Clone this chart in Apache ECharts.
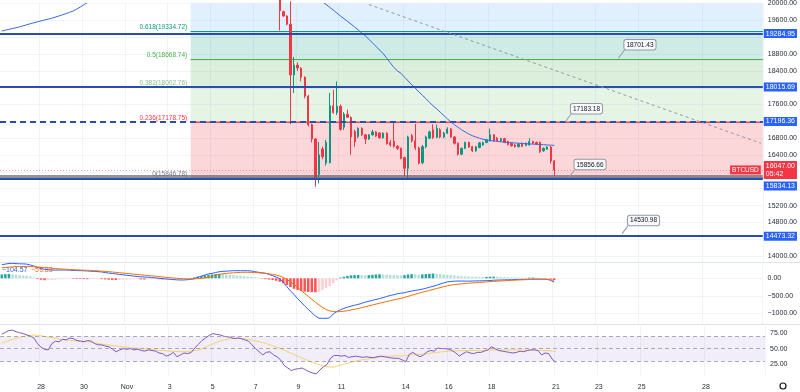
<!DOCTYPE html>
<html><head><meta charset="utf-8">
<script src="https://cdn.jsdelivr.net/npm/echarts@6/dist/echarts.min.js"></script>
<style>html,body{margin:0;padding:0;background:#fff}#c{width:800px;height:392px}</style>
</head><body><div id="c"></div>
<script>
// ---------- time slots (4h candles) ----------
const startTime = Date.UTC(2022, 9, 26, 4);
const slotHours = 4;
const slotCount = 214;

// ---------- x tick labels ----------
const dayTickKeys = ['10-28 00','10-30 00','11-01 00','11-03 00','11-05 00','11-07 00','11-09 00','11-11 00','11-14 00','11-16 00','11-18 00','11-21 00','11-23 00','11-25 00','11-28 00'];
const dayTickText = ['28','30','Nov','3','5','7','9','11','14','16','18','21','23','25','28'];

// ---------- y tick labels ----------
const priceLabelValues = [14000,14800,15200,16400,16800,17600,18400,18800,19600,20000];
const priceGridValues = [14000,14400,14800,15200,15600,16000,16400,16800,17200,17600,18000,18400,18800,19200,19600,20000];
const macdLabelValues = [0,-500,-1000];
const rsiLabelValues = [25,50,75];

// ---------- candles: [open, close, low, high], first one at slot 78 ----------
const candleFirstSlot = 78;
const ohlc = [
[20250,19830,19360,20300],[19806,19704,19680,19830],[19703,19510,19480,19720],[19510,18302,17135,20050],
[18302,18536,17875,18732],[18536,18468,18400,18600],[18460,18250,18150,18490],[18250,17800,17750,18270],
[17800,17120,17080,17830],[17120,16780,16700,17150],[16780,15860,15650,16800],[15940,16405,15730,16710],
[16545,16360,16300,16600],[16210,16700,16150,16760],[16220,17570,16200,17875],[17570,17410,17380,17950],
[17410,17560,17350,18150],[17560,17010,16980,17600],[17060,17370,17000,17420],[17370,17300,17280,17480],
[17290,16830,16410,17320],[16960,16720,16600,17000],[16840,17035,16800,17060],[17030,16880,16850,17060],
[16880,16780,16660,16900],[16780,16880,16760,16900],[16880,16950,16860,17000],[16950,16850,16830,16970],
[16920,16810,16790,16950],[16810,16920,16790,16940],[16920,16670,16650,16940],[16700,16640,16600,16760],
[16730,16610,16580,17210],[16610,16560,16520,16640],[16560,16320,16300,16580],[16340,16085,15890,16360],
[16085,16830,15820,16860],[16860,16740,16700,16900],[16740,16575,16520,17140],[16570,16200,16180,16600],
[16220,16600,16180,16640],[16600,16830,16560,16860],[16800,16950,16780,16980],[17000,16820,16780,17130],
[16820,17030,16800,17120],[17000,16830,16800,17040],[16830,16920,16800,16950],[16920,17020,16900,17060],
[17020,16830,16810,17040],[16830,16680,16650,16850],[16680,16420,16390,16700],[16420,16560,16400,16580],
[16560,16700,16540,16720],[16700,16590,16570,16720],[16600,16500,16470,16620],[16500,16600,16480,16620],
[16580,16690,16560,16710],[16640,16700,16620,16720],[16700,16760,16680,16780],[16740,16880,16720,17030],
[16880,16740,16720,16900],[16800,16740,16720,16830],[16740,16790,16720,16810],[16790,16700,16680,16810],
[16720,16650,16630,16740],[16680,16620,16600,16700],[16640,16600,16580,16660],[16600,16660,16580,16680],
[16680,16610,16590,16700],[16630,16680,16610,16700],[16640,16720,16620,16800],[16720,16680,16660,16740],
[16700,16660,16640,16720],[16700,16480,16450,16720],[16500,16560,16480,16580],[16540,16590,16520,16610],
[16590,16260,16200,16610],[16260,16047,15910,16280]
];

// ---------- moving average on price (per slot from slot 0) ----------
const maValues = [19346,19366,19386,19405,19425,19445,19470,19495,19520,19542,19565,19587,19608,19629,19650,19676,19703,19731,19760,19790,19820,19865,19915,19970,
20020,20065,20105,20140,20172,20200,20225,20248,20270,20290,20308,20325,20340,20355,20368,20380,20392,20403,20414,20425,20436,20447,20458,20468,20478,20488,20497,20506,20515,20524,20532,20540,20547,20554,20560,20566,20572,20577,20582,20586,20590,20594,20597,20600,20602,20604,20605,20606,20606,20605,20604,20602,20600,20597,20594,20590,20586,
20560,20520,20470,20410,20350,20290,20225,20160,20095,20035,19977,
19910,19845,19775,19705,19640,19575,19510,19440,19370,19300,19230,19150,19065,18980,18895,18810,18700,18590,18480,18400,18340,18250,18160,18070,17990,17900,17820,17740,17650,17570,17500,17420,17340,17260,17190,17120,17060,17000,16950,16900,16860,16830,16800,16775,16760,16745,16735,16725,16715,16708,16700,16693,16687,16681,16675,16670,16665,16660,16655,16650,16645,16640,16635,16630];

// ---------- MACD pane ----------
const macdLine = [390,405,425,427,420,415,412,405,380,350,310,280,258,245,237,235,237,237,237,232,226,222,219,216,210,203,197,191,182,165,150,138,126,112,100,88,75,64,53,43,38,32,22,12,3,-8,-18,-28,-36,-42,-47,-48,-40,-32,-10,30,62,95,125,142,165,188,198,205,212,217,218,218,217,217,210,190,172,158,145,110,75,35,-10,-120,-240,-360,-460,-580,-680,-790,-890,-980,-1080,-1140,-1143,-1143,-1130,-1020,-950,-900,-860,-825,-795,-770,-745,-715,-680,-655,-630,-605,-580,-550,-520,-490,-470,-440,-425,-410,-385,-365,-345,-330,-310,-285,-255,-230,-200,-165,-130,-105,-90,-82,-78,-78,-80,-80,-78,-75,-72,-70,-68,-62,-55,-50,-48,-45,-42,-40,-35,-32,-30,-28,-26,-24,-22,-25,-25,-25,-60,-105];
const signalLine = [300,310,320,328,333,336,338,338,336,332,326,318,308,298,288,280,272,265,258,252,247,242,237,233,228,223,218,212,205,198,190,180,170,160,150,140,130,120,110,100,90,80,70,60,50,40,30,20,10,2,-6,-12,-16,-18,-16,-10,0,12,26,42,
100,115,128,140,150,158,165,170,172,172,170,165,158,150,140,128,112,92,65,25,-30,-100,-175,-260,-345,-430,-515,-600,-680,-760,-830,-890,-930,-950,-954,-950,-940,-925,-905,-885,-862,-838,-812,-787,-762,-737,-712,-688,-664,-640,-617,-594,-571,-545,-516,-486,-455,-428,-400,-372,-345,-318,-292,-266,-240,-215,-195,-180,-168,-158,-148,-140,-132,-125,-117,-110,-103,-96,-89,-82,-76,-70,-64,-58,-52,-47,-43,-39,-35,-32,-29,-27,-26,-28,-38,-59];
const macdHist = [110,120,125,115,100,90,80,70,55,25,
-20,-40,-55,-55,-50,-40,-30,-25,-20,
-10,-15,-18,-20,-22,-25,-22,-20,-18,-22,-30,-38,-45,-50,-45,-40,
-35,-30,-25,-22,-30,-35,-30,-25,-20,-25,-30,-28,-25,-22,-18,-15,-10,-8,
10,25,45,65,85,100,110,120,125,120,110,100,90,80,70,60,50,40,
30,15,-10,-25,
-35,-50,-70,-100,-140,-190,-250,-300,-330,-360,-380,-390,-395,-400,-380,
-330,-280,-220,-140,-60,
20,45,70,85,90,95,90,85,90,100,110,115,110,100,95,90,85,80,90,110,120,115,105,110,120,130,135,130,120,110,100,90,80,70,60,55,50,45,42,40,38,40,45,50,45,40,35,30,28,25,22,20,18,20,22,18,12,8,5,-15,-46];
const macdLegend = ['\u2212104.57','\u221258.83'];

// ---------- RSI pane ----------
const rsiLine = [73,76,79,79.5,77,75.5,74,72,70,67,58,52,49,48,58,62,61,65,64,67,66,63,62,61,63,62,58,56,56,54,53,49,45,48,50,49,50,48,49,47,46,48,47,46,43,42,38,40,44,37,40,43,42,44,51,57,63,67,71,74,73,72,70,69,68,66,67,66,64,62,56,50,45,40,44,45,40,37,32,23,19,15,17,18,19,16,13,11,9.5,16,21,25,35,39,39,38,39,36,37,38,37,36,37,36,35.5,37,38,37,36,35,34.5,34.5,32,29,41,44,40,37,40,45,47,46,51,50,50,49,47,43,38,42,45,43,42,44,44,46,48,53,50,47,46,45,44,43,44,46,45,47,48,48,47,40,43,42,33,28];
const rsiMa = [59,61,63,65,66.5,68,69.5,70.5,71.3,71.8,71.5,70.5,69.5,68.5,67.5,66.5,65.5,64.5,64,63.3,62.8,62.3,61.8,61.3,60.8,60,59,58,57,56.3,55.8,55,54.2,53.5,52.8,52.2,51.5,51,50.5,50,49.5,49,48.5,48,47.5,47,46.5,46,45.7,45.4,45.2,45,45.3,46,47,48,50,52.5,55,57.5,60,62,63.5,64.8,65.8,66.3,66.5,66.3,65.5,64.5,63.5,62.3,61,59.5,58,56,54,52,50,47.5,45,42.5,40,37.5,35,32.5,30,28,26,24,22,21,20.3,20.5,22.5,24,25.5,27,28.8,30.2,31.3,32.2,33,34,35,36,36.8,37.3,37.7,38,38.2,38.4,38.6,38.8,39.3,40,40.5,41,41.5,42,42.8,43.5,44.2,44.8,45.3,45.8,46.2,46.5,46.7,46.8,47,47.1,47.2,47.3,47.3,47.4,47.5,47.6,47.7,47.7,47.8,47.8,47.8,47.8,47.8,47.8,47.8,47.7,47.7,47.6,47.5,47.2,46.9,46.6,46,45.2];
const rsiBand = [30,70];
const rsiLevels = [70,50,30];

// ---------- drawings ----------
const hLinePrices = [19284.95,18015.69,17196.36,15834.13,14473.32];
const hLineDashed = [false,false,true,false,false];
const fibStartKey = '11-04 00';
const fibRatios = ['0','0.236','0.382','0.5','0.618','0.786'];
const fibPrices = [15846.78,17178.75,18002.76,18668.74,19334.72,20282.8];
const fibColors = ['#787b86','#f23645','#81c784','#4caf50','#089981','#64b5f6'];
const trendStart = ['11-12 08',19975];
const trendEnd = ['11-30 16',16680];
const greyBandPrice = 15885;
const lastPrice = 16047.00;
const lastCountdown = '05:42';
const symbolName = 'BTCUSD';
const calloutKeys = ['11-24 00','11-21 12','11-21 16','11-24 04'];
const calloutPrices = [18701.43,17183.18,15856.66,14530.98];

// ---------- build ----------
const pad = n => String(n).padStart(2,'0');
const categories = [];
for (let k = 0; k < slotCount; k++) {
  const d = new Date(startTime + k * slotHours * 3600000);
  categories.push(pad(d.getUTCMonth()+1) + '-' + pad(d.getUTCDate()) + ' ' + pad(d.getUTCHours()));
}
const tickMap = {};
dayTickKeys.forEach((k,i)=>{ tickMap[k] = dayTickText[i]; });
const isTick = (idx, val) => tickMap[val] !== undefined;
const candleData = categories.map((c,k)=>{ const r = ohlc[k - candleFirstSlot]; return r ? r : '-'; });
const histData = macdHist.map((v,k)=>{
  const prev = k > 0 ? macdHist[k-1] : v;
  let c;
  if (v >= 0) c = v >= prev ? '#26a69a' : '#b2dfdb';
  else c = v < prev ? '#ff5252' : '#ffcdd2';
  return {value: v, itemStyle: {color: c}};
});
const hexA = (hex, a) => { const n = parseInt(hex.slice(1),16); return `rgba(${n>>16},${(n>>8)&255},${n&255},${a})`; };

const FONT = 'Liberation Sans';
const GRID_C = '#f0f3fa';
const AX_TXT = '#2a2e39';

const grids = [
  {left:0, right:35, top:-1, height:263},
  {left:0, right:35, top:262, height:62},
  {left:0, right:35, top:324, height:51}
];
const xAxes = [0,1,2].map(g => ({
  type:'category', gridIndex:g, data:categories, boundaryGap:true,
  axisLine:{show:false}, axisTick:{show:false},
  axisLabel: g === 2 ? {show:true, interval:isTick, formatter:v => tickMap[v] || '', fontSize:7, color:AX_TXT, margin:9, fontFamily:FONT} : {show:false},
  splitLine:{show:true, interval:isTick, lineStyle:{color:GRID_C, width:1}}
}));
const yAxes = [
  {type:'value', gridIndex:0, position:'right', min:13860, max:20000, scale:true,
   axisLine:{show:false}, axisTick:{show:false, customValues:priceGridValues},
   axisLabel:{customValues:priceLabelValues, formatter:v=>v.toFixed(2), fontSize:7, color:AX_TXT, margin:5, fontFamily:FONT},
   splitLine:{show:true, lineStyle:{color:GRID_C}}},
  {type:'value', gridIndex:1, position:'right', min:-1305, max:466,
   axisLine:{show:false}, axisTick:{show:false, customValues:macdLabelValues},
   axisLabel:{customValues:macdLabelValues, formatter:v=>(v<0?'\u2212':'')+Math.abs(v).toFixed(2), fontSize:7, color:AX_TXT, margin:5, fontFamily:FONT},
   splitLine:{show:true, lineStyle:{color:GRID_C}}},
  {type:'value', gridIndex:2, position:'right', min:7.8, max:89.4,
   axisLine:{show:false}, axisTick:{show:false, customValues:rsiLabelValues},
   axisLabel:{customValues:rsiLabelValues, formatter:v=>v.toFixed(2), fontSize:7, color:AX_TXT, margin:5, fontFamily:FONT},
   splitLine:{show:false}}
];

// fib zones and level lines
const fibAreas = [];
for (let k = 0; k < fibPrices.length-1; k++) {
  fibAreas.push([
    {xAxis:fibStartKey, yAxis:fibPrices[k], itemStyle:{color:hexA(fibColors[k+1],0.2), borderWidth:0}, label:{show:false}},
    {yAxis:fibPrices[k+1]}
  ]);
}
for (let k = 0; k < fibPrices.length-1; k++) {
  fibAreas.push([
    {xAxis:fibStartKey, yAxis:fibPrices[k], itemStyle:{color:'rgba(0,0,0,0)', borderColor:fibColors[k], borderWidth:1},
     label:{show:true, position:'left', distance:3, formatter:'{t|'+fibRatios[k]+'('+fibPrices[k].toFixed(2)+')}\n{g|}',
            rich:{t:{color:fibColors[k], fontSize:6.5, fontFamily:FONT}, g:{height:8}}}},
    {yAxis:fibPrices[k]}
  ]);
}

const badgeBase = {show:true, position:'end', distance:1, color:'#fff', backgroundColor:'#2962ff', padding:[1,2,1,2], fontSize:7, fontFamily:FONT};
const hLineData = hLinePrices.map((p,k)=>{
  const label = (k === 3)
    ? {show:true, position:'end', distance:1, formatter:'{g|}\n{b|'+p.toFixed(2)+'}', rich:{g:{height:14}, b:{color:'#fff', backgroundColor:'#2962ff', padding:[1,2,1,2], fontSize:7, fontFamily:FONT}}}
    : Object.assign({}, badgeBase, {formatter:p.toFixed(2)});
  return {yAxis:p, lineStyle:{color:'#2a4db3', width:2, type: hLineDashed[k] ? [6,4] : 'solid'}, label};
});

const drawLines = [
  {yAxis:greyBandPrice, lineStyle:{color:'rgba(100,100,112,0.7)', width:3, type:'solid'}, label:{show:false}},
  ...hLineData,
  {yAxis:lastPrice, lineStyle:{color:'rgba(242,54,69,0.45)', width:1, type:[1,2]},
   label:{show:true, position:'end', distance:1, formatter:lastPrice.toFixed(2)+'\n'+lastCountdown, color:'#fff', backgroundColor:'#f23645', padding:[1,2,1,2], fontSize:7, lineHeight:8, fontFamily:FONT}},
  {yAxis:lastPrice, lineStyle:{width:0, color:'rgba(0,0,0,0)'},
   label:{show:true, opacity:1, position:'insideEnd', distance:2, formatter:symbolName, color:'#fff', backgroundColor:'#f23645', padding:[1,2,1,2], fontSize:6.5, fontFamily:FONT}},
  [{xAxis:trendStart[0], yAxis:trendStart[1], lineStyle:{color:'#9598a1', width:1, type:[3,3]}, label:{show:false}},
   {xAxis:trendEnd[0], yAxis:trendEnd[1]}]
];

const callouts = calloutKeys.map((k,i)=>({coord:[k, calloutPrices[i]], value:calloutPrices[i]}));

const option = {
  animation:false,
  backgroundColor:'#ffffff',
  textStyle:{fontFamily:FONT},
  grid:grids, xAxis:xAxes, yAxis:yAxes,
  series:[
    {type:'line', name:'fibZones', xAxisIndex:0, yAxisIndex:0, data:[], silent:true, z:1,
     markArea:{silent:true, data:fibAreas}},
    {type:'candlestick', name:'BTCUSD', xAxisIndex:0, yAxisIndex:0, data:candleData, barWidth:1.8, z:2,
     itemStyle:{color:'#089981', color0:'#f23645', borderColor:'#089981', borderColor0:'#f23645', borderWidth:1}},
    {type:'line', name:'MA', xAxisIndex:0, yAxisIndex:0, data:maValues, symbol:'none', z:3,
     lineStyle:{color:'#3a68e0', width:1}},
    {type:'line', name:'drawings', xAxisIndex:0, yAxisIndex:0, data:[], silent:true, z:4,
     markLine:{silent:true, symbol:['none','none'], data:drawLines},
     markPoint:{silent:true, symbol:'path://M0,8L6,0', symbolSize:[6,8], symbolOffset:[3,-4],
       itemStyle:{color:'rgba(0,0,0,0)', borderColor:'#9598a1', borderWidth:1},
       label:{show:true, position:'top', distance:0, offset:[18.5,0], formatter:p=>p.value.toFixed(2),
         color:'#131722', fontSize:6.5, fontFamily:FONT, backgroundColor:'#f8f9fd', borderColor:'#9598a1', borderWidth:1, borderRadius:2, padding:[1.5,2,1,2]},
       data:callouts}},
    {type:'bar', name:'Histogram', xAxisIndex:1, yAxisIndex:1, data:histData, barWidth:'70%'},
    {type:'line', name:'MACD', xAxisIndex:1, yAxisIndex:1, data:macdLine, symbol:'none', lineStyle:{color:'#2962ff', width:1}},
    {type:'line', name:'Signal', xAxisIndex:1, yAxisIndex:1, data:signalLine, symbol:'none', lineStyle:{color:'#ff6d00', width:1}},
    {type:'line', name:'rsiBand', xAxisIndex:2, yAxisIndex:2, data:[], silent:true, z:1,
     markArea:{silent:true, data:[[{yAxis:rsiBand[0], itemStyle:{color:'rgba(126,87,194,0.1)'}}, {yAxis:rsiBand[1]}]]},
     markLine:{silent:true, symbol:['none','none'], label:{show:false},
       data:rsiLevels.map(v=>({yAxis:v, lineStyle:{color:'#9598a1', width:1, type:[4,3], opacity:0.8}}))}},
    {type:'line', name:'RSI', xAxisIndex:2, yAxisIndex:2, data:rsiLine, symbol:'none', lineStyle:{color:'#7e57c2', width:1}, z:3},
    {type:'line', name:'RSI MA', xAxisIndex:2, yAxisIndex:2, data:rsiMa, symbol:'none', lineStyle:{color:'#f7d36a', width:1}, z:2}
  ],
  graphic:[
    {type:'line', shape:{x1:0,y1:262.5,x2:800,y2:262.5}, style:{stroke:'#e0e3eb', lineWidth:1}, silent:true},
    {type:'line', shape:{x1:0,y1:324.5,x2:800,y2:324.5}, style:{stroke:'#e0e3eb', lineWidth:1}, silent:true},
    {type:'text', left:2, top:267, style:{text:macdLegend[0], fill:'#2962ff', font:'7px "Liberation Sans"'}, silent:true},
    {type:'text', left:31, top:267, style:{text:macdLegend[1], fill:'#ff6d00', font:'7px "Liberation Sans"'}, silent:true},
    {type:'circle', shape:{cx:783, cy:386, r:3}, style:{fill:'none', stroke:'#131722', lineWidth:1.2}, silent:true}
  ]
};
echarts.init(document.getElementById('c'), null, {renderer:'canvas'}).setOption(option);
</script></body></html>
